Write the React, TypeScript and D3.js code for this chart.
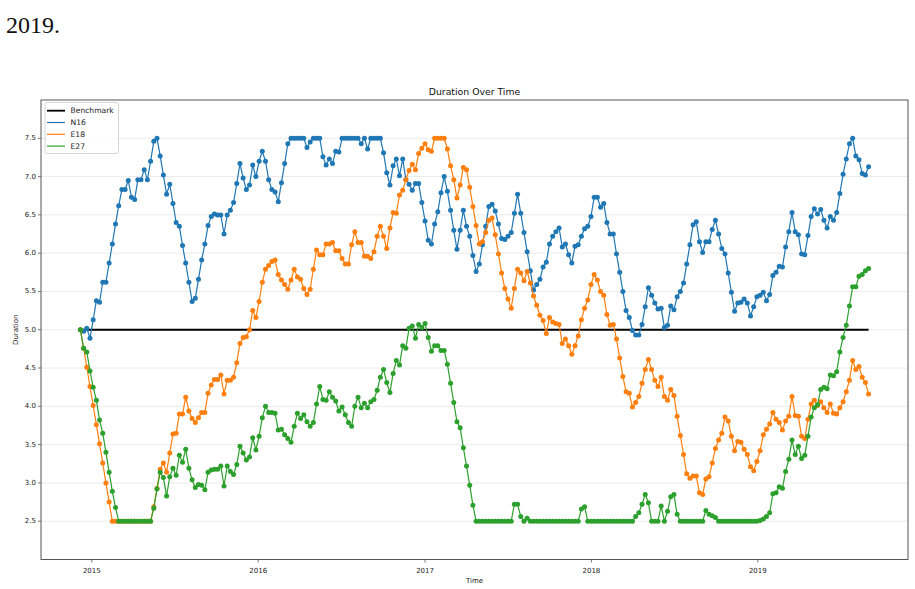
import React from "react";
import * as d3 from "d3";

// ---- Data (weekly observations starting 2014-12-07) ----
const START = "2014-12-07";
const SERIES_NAMES = ["N16", "E18", "E27"];
const BENCHMARK = 5.0;

const N16 = [
  5.0, 4.98, 5.02, 4.89, 5.13, 5.38, 5.36, 5.62, 5.62, 5.87,
  6.12, 6.38, 6.62, 6.83, 6.83, 6.95, 6.73, 6.7, 6.96, 6.96,
  7.09, 6.96, 7.2, 7.46, 7.5, 7.27, 7.02, 6.77, 6.9, 6.65,
  6.4, 6.35, 6.1, 5.87, 5.62, 5.37, 5.41, 5.66, 5.91, 6.12,
  6.36, 6.48, 6.51, 6.5, 6.5, 6.25, 6.5, 6.56, 6.66, 6.91,
  7.17, 6.98, 6.83, 6.89, 7.15, 7.0, 7.2, 7.33, 7.2, 6.96,
  6.83, 6.8, 6.67, 6.92, 7.17, 7.43, 7.5, 7.5, 7.5, 7.5,
  7.5, 7.38, 7.45, 7.5, 7.5, 7.5, 7.26, 7.15, 7.23, 7.17,
  7.33, 7.32, 7.5, 7.5, 7.5, 7.5, 7.5, 7.5, 7.43, 7.5,
  7.36, 7.5, 7.5, 7.5, 7.5, 7.31, 7.05, 6.89, 7.14, 7.23,
  7.01, 7.23, 6.96, 6.9, 6.82, 6.91, 6.91, 6.66, 6.42, 6.17,
  6.12, 6.38, 6.54, 6.79, 7.0, 6.81, 6.56, 6.3, 6.05, 6.3,
  6.56, 6.35, 6.22, 5.97, 5.76, 5.86, 6.11, 6.35, 6.61, 6.64,
  6.55, 6.38, 6.19, 6.18, 6.22, 6.27, 6.52, 6.77, 6.52, 6.27,
  6.02, 5.77, 5.52, 5.59, 5.66, 5.82, 5.88, 6.12, 6.22, 6.28,
  6.33, 6.08, 6.12, 5.98, 5.87, 6.09, 6.11, 6.22, 6.32, 6.35,
  6.48, 6.73, 6.73, 6.6, 6.65, 6.4, 6.25, 6.25, 5.99, 5.75,
  5.5, 5.25, 5.16, 4.99, 4.93, 4.93, 5.07, 5.3, 5.55, 5.45,
  5.35, 5.27, 5.28, 5.03, 5.06, 5.31, 5.26, 5.43, 5.5, 5.61,
  5.86, 6.11, 6.37, 6.41, 6.15, 6.01, 6.15, 6.15, 6.31, 6.43,
  6.25, 6.06, 5.99, 5.74, 5.49, 5.24, 5.35, 5.36, 5.4, 5.35,
  5.18, 5.3, 5.43, 5.45, 5.49, 5.38, 5.46, 5.71, 5.75, 5.83,
  5.82, 6.08, 6.28, 6.53, 6.28, 6.24, 5.99, 5.98, 6.23, 6.48,
  6.58, 6.51, 6.57, 6.43, 6.33, 6.48, 6.43, 6.53, 6.78, 7.03,
  7.23, 7.43, 7.5, 7.27, 7.22, 7.04, 7.02, 7.13,
];

const E18 = [
  5.0, 4.76, 4.51, 4.26, 4.01, 3.76, 3.51, 3.26, 3.0, 2.75,
  2.5, 2.5, 2.5, 2.5, 2.5, 2.5, 2.5, 2.5, 2.5, 2.5,
  2.5, 2.5, 2.5, 2.69, 2.93, 3.18, 3.26, 3.14, 3.39, 3.64,
  3.65, 3.9, 3.9, 4.12, 3.94, 3.84, 3.79, 3.85, 3.92, 3.92,
  4.17, 4.28, 4.35, 4.35, 4.41, 4.16, 4.34, 4.34, 4.38, 4.57,
  4.82, 4.9, 4.91, 5.0, 5.25, 5.16, 5.37, 5.62, 5.79, 5.84,
  5.89, 5.91, 5.72, 5.65, 5.59, 5.53, 5.65, 5.79, 5.69, 5.66,
  5.54, 5.46, 5.53, 5.79, 6.04, 5.98, 5.98, 6.12, 6.12, 6.14,
  6.03, 6.03, 5.93, 5.86, 5.86, 6.11, 6.28, 6.14, 6.14, 5.96,
  5.96, 5.93, 6.02, 6.22, 6.35, 6.22, 6.06, 6.33, 6.53, 6.52,
  6.76, 6.82, 6.96, 7.08, 7.16, 7.09, 7.3, 7.37, 7.43, 7.35,
  7.33, 7.5, 7.5, 7.5, 7.5, 7.36, 7.14, 6.96, 6.72, 6.89,
  7.12, 7.09, 6.86, 6.61, 6.36, 6.12, 6.15, 6.27, 6.43, 6.46,
  6.24, 5.99, 5.74, 5.54, 5.4, 5.28, 5.54, 5.79, 5.74, 5.64,
  5.76, 5.61, 5.44, 5.32, 5.19, 5.12, 4.95, 5.16, 5.1, 5.08,
  5.07, 4.82, 4.88, 4.79, 4.68, 4.79, 4.92, 5.13, 5.28, 5.39,
  5.59, 5.72, 5.65, 5.5, 5.45, 5.2, 5.06, 5.07, 4.88, 4.63,
  4.39, 4.19, 4.17, 3.99, 4.05, 4.13, 4.3, 4.48, 4.61, 4.48,
  4.34, 4.26, 4.38, 4.13, 4.08, 4.22, 4.14, 3.87, 3.62, 3.37,
  3.12, 3.06, 3.09, 3.09, 2.87, 2.85, 3.05, 3.08, 3.26, 3.45,
  3.56, 3.65, 3.86, 3.81, 3.61, 3.42, 3.54, 3.53, 3.44, 3.37,
  3.21, 3.16, 3.28, 3.42, 3.63, 3.7, 3.77, 3.92, 3.83, 3.79,
  3.69, 3.81, 3.87, 4.13, 3.88, 3.87, 3.61, 3.58, 3.83, 4.03,
  4.08, 4.01, 4.06, 3.98, 3.92, 4.03, 3.91, 3.9, 3.98, 4.06,
  4.19, 4.34, 4.6, 4.48, 4.52, 4.38, 4.31, 4.16,
];

const E27 = [
  5.0, 4.76, 4.71, 4.46, 4.25, 4.08, 3.82, 3.65, 3.4, 3.14,
  2.89, 2.68, 2.5, 2.5, 2.5, 2.5, 2.5, 2.5, 2.5, 2.5,
  2.5, 2.5, 2.5, 2.67, 2.92, 3.14, 3.07, 2.83, 3.08, 3.19,
  3.1, 3.36, 3.27, 3.44, 3.19, 3.04, 2.94, 2.98, 2.97, 2.91,
  3.14, 3.17, 3.18, 3.18, 3.22, 2.96, 3.22, 3.15, 3.11, 3.24,
  3.48, 3.39, 3.3, 3.34, 3.59, 3.43, 3.61, 3.85, 4.0, 3.92,
  3.92, 3.91, 3.69, 3.7, 3.63, 3.58, 3.53, 3.74, 3.91, 3.84,
  3.89, 3.8, 3.74, 3.79, 4.03, 4.26, 4.09, 4.08, 4.19, 4.12,
  4.07, 3.94, 3.99, 3.89, 3.79, 3.74, 4.0, 4.12, 3.98, 4.04,
  3.98, 4.06, 4.09, 4.21, 4.38, 4.48, 4.31, 4.18, 4.43, 4.6,
  4.54, 4.79, 4.76, 5.02, 5.05, 4.89, 5.07, 5.03, 5.08, 4.9,
  4.72, 4.79, 4.79, 4.73, 4.73, 4.55, 4.3, 4.05, 3.8, 3.72,
  3.46, 3.22, 2.97, 2.71, 2.5, 2.5, 2.5, 2.5, 2.5, 2.5,
  2.5, 2.5, 2.5, 2.5, 2.5, 2.5, 2.72, 2.72, 2.56, 2.5,
  2.54, 2.5, 2.5, 2.5, 2.5, 2.5, 2.5, 2.5, 2.5, 2.5,
  2.5, 2.5, 2.5, 2.5, 2.5, 2.5, 2.5, 2.66, 2.69, 2.5,
  2.5, 2.5, 2.5, 2.5, 2.5, 2.5, 2.5, 2.5, 2.5, 2.5,
  2.5, 2.5, 2.5, 2.5, 2.56, 2.61, 2.72, 2.85, 2.74, 2.5,
  2.5, 2.5, 2.7, 2.5, 2.63, 2.82, 2.85, 2.59, 2.5, 2.5,
  2.5, 2.5, 2.5, 2.5, 2.5, 2.5, 2.64, 2.59, 2.57, 2.55,
  2.5, 2.5, 2.5, 2.5, 2.5, 2.5, 2.5, 2.5, 2.5, 2.5,
  2.5, 2.5, 2.5, 2.51, 2.53, 2.56, 2.61, 2.86, 2.87, 2.95,
  2.93, 3.15, 3.31, 3.56, 3.37, 3.48, 3.32, 3.36, 3.61, 3.86,
  3.98, 4.02, 4.22, 4.25, 4.23, 4.41, 4.4, 4.45, 4.71, 4.9,
  5.06, 5.31, 5.56, 5.56, 5.7, 5.72, 5.77, 5.8,
];

const Y_TICKS = [2.5, 3.0, 3.5, 4.0, 4.5, 5.0, 5.5, 6.0, 6.5, 7.0, 7.5];
const X_TICK_LABELS = ["2015", "2016", "2017", "2018", "2019"];
const LEGEND_LABELS = ["Benchmark", "N16", "E18", "E27"];
const COLORS = ["#000000", "#1f77b4", "#ff7f0e", "#2ca02c"];

const W = 915;
const H = 589;
const M = { left: 41, right: 908, top: 100, bottom: 559.5 };
const FONT = "'DejaVu Sans', sans-serif";

export default function App() {
  const parse = d3.timeParse("%Y-%m-%d");
  const start = parse(START) as Date;
  const dates = N16.map((_, i) => d3.timeDay.offset(start, 7 * i));
  const end = dates[dates.length - 1];
  const pad = (end.getTime() - start.getTime()) * 0.05;

  const x = d3
    .scaleTime()
    .domain([new Date(start.getTime() - pad), new Date(end.getTime() + pad)])
    .range([M.left, M.right]);
  const y = d3.scaleLinear().domain([2, 8]).range([M.bottom, M.top]);

  const seriesData = [N16, E18, E27];
  const line = d3
    .line<number>()
    .x((_, i) => x(dates[i]))
    .y((v) => y(v));

  const xTicks = X_TICK_LABELS.map((l) => ({ label: l, date: new Date(+l, 0, 1) }));
  const fmt = d3.format(".1f");

  return (
    <svg
      width={W}
      height={H}
      style={{ position: "absolute", left: 0, top: 0, background: "#fff" }}
    >
      <rect x={0} y={0} width={W} height={H} fill="#fff" />
      <text x={6} y={33} fontFamily="'Liberation Serif', serif" fontSize={24} fill="#111">
        2019.
      </text>

      {/* grid */}
      {Y_TICKS.map((t) => (
        <line
          key={"g" + t}
          x1={M.left}
          x2={M.right}
          y1={y(t)}
          y2={y(t)}
          stroke="#ebebeb"
          strokeWidth={1}
        />
      ))}

      {/* benchmark */}
      <line
        x1={x(start)}
        x2={x(end)}
        y1={y(BENCHMARK)}
        y2={y(BENCHMARK)}
        stroke={COLORS[0]}
        strokeWidth={1.8}
      />

      {/* series */}
      {seriesData.map((s, k) => (
        <g key={SERIES_NAMES[k]}>
          <path d={line(s) || ""} fill="none" stroke={COLORS[k + 1]} strokeWidth={1.2} />
          {s.map((v, i) => (
            <circle key={i} cx={x(dates[i])} cy={y(v)} r={2.5} fill={COLORS[k + 1]} />
          ))}
        </g>
      ))}

      {/* frame */}
      <rect
        x={M.left}
        y={M.top}
        width={M.right - M.left}
        height={M.bottom - M.top}
        fill="none"
        stroke="#555"
        strokeWidth={1}
      />

      {/* y axis */}
      {Y_TICKS.map((t) => (
        <g key={"y" + t}>
          <line x1={M.left - 3} x2={M.left} y1={y(t)} y2={y(t)} stroke="#555" strokeWidth={0.8} />
          <text
            x={M.left - 5}
            y={y(t)}
            textAnchor="end"
            dominantBaseline="central"
            fontFamily={FONT}
            fontSize={7}
            fill="#222"
          >
            {fmt(t)}
          </text>
        </g>
      ))}

      {/* x axis */}
      {xTicks.map((t) => (
        <g key={t.label}>
          <line
            x1={x(t.date)}
            x2={x(t.date)}
            y1={M.bottom}
            y2={M.bottom + 3}
            stroke="#555"
            strokeWidth={0.8}
          />
          <text
            x={x(t.date)}
            y={M.bottom + 13}
            textAnchor="middle"
            fontFamily={FONT}
            fontSize={7}
            fill="#222"
          >
            {t.label}
          </text>
        </g>
      ))}

      {/* labels */}
      <text
        x={(M.left + M.right) / 2}
        y={95}
        textAnchor="middle"
        fontFamily={FONT}
        fontSize={9.3}
        fill="#111"
      >
        Duration Over Time
      </text>
      <text
        x={(M.left + M.right) / 2}
        y={583}
        textAnchor="middle"
        fontFamily={FONT}
        fontSize={7}
        fill="#222"
      >
        Time
      </text>
      <text
        transform={`translate(18,${(M.top + M.bottom) / 2}) rotate(-90)`}
        textAnchor="middle"
        fontFamily={FONT}
        fontSize={7}
        fill="#222"
      >
        Duration
      </text>

      {/* legend */}
      <g>
        <rect
          x={45}
          y={102.5}
          width={73.5}
          height={51}
          rx={2}
          fill="#fff"
          fillOpacity={0.8}
          stroke="#cccccc"
          strokeWidth={0.8}
        />
        {LEGEND_LABELS.map((l, i) => {
          const cy = 110.7 + i * 11.8;
          return (
            <g key={l}>
              <line
                x1={47}
                x2={65}
                y1={cy}
                y2={cy}
                stroke={COLORS[i]}
                strokeWidth={i === 0 ? 1.8 : 1.2}
              />
              <text
                x={70.5}
                y={cy}
                dominantBaseline="central"
                fontFamily={FONT}
                fontSize={7.6}
                fill="#222"
              >
                {l}
              </text>
            </g>
          );
        })}
      </g>
    </svg>
  );
}
